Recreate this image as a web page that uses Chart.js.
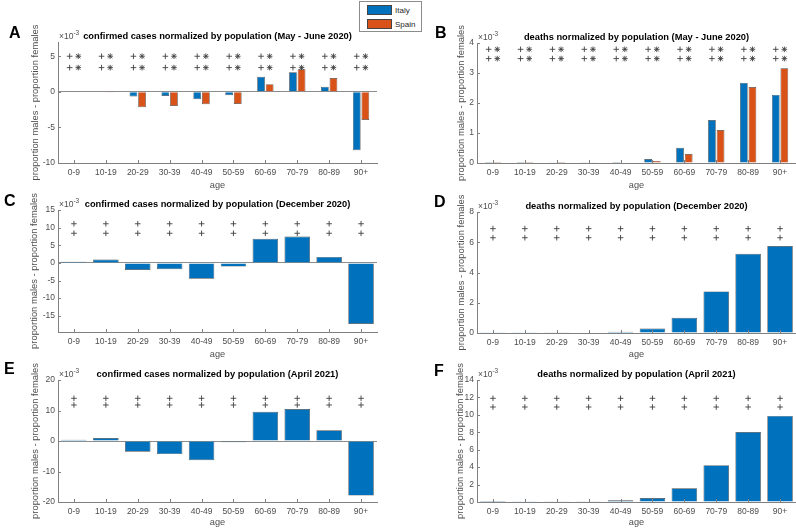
<!DOCTYPE html>
<html>
<head>
<meta charset="utf-8">
<script src="https://cdn.jsdelivr.net/npm/chart.js@4.4.0/dist/chart.umd.min.js"></script>
<style>
  body { margin: 0; background: #fff; }
  #wrap { position: relative; width: 796px; height: 529px; overflow: hidden; }
  #wrap canvas { position: absolute; }
  #legend { position: absolute; left: 359px; top: 1px; width: 63px; height: 31px; border: 1px solid #8c8c8c;
            background: #fff; box-sizing: border-box; font: 8px 'Liberation Sans', Arial, sans-serif; color: #262626; }
  #legend div { position: absolute; left: 7px; height: 11px; line-height: 11px; white-space: nowrap; }
  #legend span { display: inline-block; width: 25px; height: 10px; margin-right: 3px; vertical-align: top;
                 border: 1px solid #444; box-sizing: border-box; }
</style>
</head>
<body>
<div id="wrap">
  <canvas id="panelA"></canvas>
  <canvas id="panelB"></canvas>
  <canvas id="panelC"></canvas>
  <canvas id="panelD"></canvas>
  <canvas id="panelE"></canvas>
  <canvas id="panelF"></canvas>
  <div id="legend"></div>
</div>
<script>
// age groups on the x axis
const ageGroups = ['0-9', '10-19', '20-29', '30-39', '40-49', '50-59', '60-69', '70-79', '80-89', '90+'];
const seriesNames = ['Italy', 'Spain'];
const seriesColors = ['#0072BD', '#D95319'];

// values in units of 10^-3 (proportion males - proportion females)
const casesMayJun2020Italy = [0.05, -0.05, -0.66, -0.57, -1.04, -0.47, 2.12, 2.74, 0.71, -8.2];
const casesMayJun2020Spain = [0.05, -0.1, -2.17, -2.0, -1.75, -1.7, 1.08, 3.16, 1.93, -3.96];
const deathsMayJun2020Italy = [0.002, 0.003, 0.005, 0.01, 0.03, 0.13, 0.51, 1.43, 2.67, 2.27];
const deathsMayJun2020Spain = [0.001, 0.002, 0.004, 0.008, 0.015, 0.07, 0.3, 1.1, 2.53, 3.16];
const casesDec2020 = [0.3, 0.95, -2.0, -1.8, -4.5, -1.05, 6.86, 7.5, 1.7, -17.3];
const deathsDec2020 = [0.01, 0.01, 0.02, 0.03, 0.09, 0.29, 1.01, 2.75, 5.24, 5.75];
const casesApr2021 = [0.44, 1.0, -3.5, -4.3, -6.3, -0.4, 9.56, 10.5, 3.5, -17.9];
const deathsApr2021 = [0.01, 0.02, 0.03, 0.04, 0.19, 0.46, 1.58, 4.23, 8.04, 9.88];

// y tick labels
const yTicksA = [-10, -5, 0, 5];
const yTicksB = [0, 1, 2, 3, 4];
const yTicksC = [-15, -10, -5, 0, 5, 10, 15];
const yTicksD = [0, 2, 4, 6, 8];
const yTicksE = [-20, -10, 0, 10, 20];
const yTicksF = [0, 2, 4, 6, 8, 10, 12, 14];

// heights of the significance marker rows
const markRowsA = [5.0, 3.4];
const markRowsB = [3.79, 3.48];
const markRowsC = [11.1, 8.4];
const markRowsD = [6.9, 6.3];
const markRowsE = [14.0, 11.8];
const markRowsF = [11.9, 10.9];

const FONT = "'Liberation Sans', Arial, Helvetica, sans-serif";
const tickColor = '#4d4d4d';
const axisColor = '#808080';

const panels = [
  { id: 'panelA', letter: 'A', title: 'confirmed cases normalized by population (May - June 2020)',
    series: [casesMayJun2020Italy, casesMayJun2020Spain], yRange: [-10, 7], yTicks: yTicksA, marks: markRowsA,
    canvas: [0, 0, 400, 192], area: [58, 42, 377, 163], letterAt: [9, 34], labelX: 35 },
  { id: 'panelB', letter: 'B', title: 'deaths normalized by population (May - June 2020)',
    series: [deathsMayJun2020Italy, deathsMayJun2020Spain], yRange: [0, 4], yTicks: yTicksB, marks: markRowsB,
    canvas: [400, 0, 396, 192], area: [477, 43, 796, 163], letterAt: [435, 34], labelX: 461 },
  { id: 'panelC', letter: 'C', title: 'confirmed cases normalized by population (December 2020)',
    series: [casesDec2020], yRange: [-19.6, 15], yTicks: yTicksC, marks: markRowsC,
    canvas: [0, 192, 400, 169], area: [58, 210, 377, 332], letterAt: [4, 202], labelX: 34 },
  { id: 'panelD', letter: 'D', title: 'deaths normalized by population (December 2020)',
    series: [deathsDec2020], yRange: [0, 8], yTicks: yTicksD, marks: markRowsD,
    canvas: [400, 192, 396, 169], area: [477, 212, 796, 333], letterAt: [434, 203], labelX: 461 },
  { id: 'panelE', letter: 'E', title: 'confirmed cases normalized by population (April 2021)',
    series: [casesApr2021], yRange: [-20, 20], yTicks: yTicksE, marks: markRowsE,
    canvas: [0, 361, 400, 168], area: [58, 380, 377, 502], letterAt: [4, 370], labelX: 35 },
  { id: 'panelF', letter: 'F', title: 'deaths normalized by population (April 2021)',
    series: [deathsApr2021], yRange: [0, 14], yTicks: yTicksF, marks: markRowsF,
    canvas: [400, 361, 396, 168], area: [477, 380, 796, 502], letterAt: [434, 372], labelX: 460 }
];

// legend
const legendEl = document.getElementById('legend');
seriesNames.forEach((name, k) => {
  const row = document.createElement('div');
  row.style.top = (3 + k * 14) + 'px';
  row.innerHTML = '<span style="background:' + seriesColors[k] + '"></span>' + name;
  legendEl.appendChild(row);
});

function drawMark(ctx, x, y, kind) {
  const r = 2.8;
  ctx.beginPath();
  ctx.moveTo(x - r, y); ctx.lineTo(x + r, y);
  ctx.moveTo(x, y - r); ctx.lineTo(x, y + r);
  if (kind === 'star') {
    const d = r * 0.75;
    ctx.moveTo(x - d, y - d); ctx.lineTo(x + d, y + d);
    ctx.moveTo(x - d, y + d); ctx.lineTo(x + d, y - d);
  }
  ctx.stroke();
}

// titles, panel letters, x10^-3, inward ticks and markers
function makeDeco(p) {
  return {
    id: 'deco',
    afterDraw(chart) {
      const {ctx, chartArea: a, scales: {x, y}} = chart;
      const [cl, ct] = p.canvas;
      ctx.save();
      ctx.strokeStyle = axisColor;
      ctx.lineWidth = 1;
      ctx.beginPath();
      y.ticks.forEach(t => {
        const py = Math.round(y.getPixelForValue(t.value)) + 0.5;
        ctx.moveTo(a.left, py); ctx.lineTo(a.left + 3, py);
      });
      x.ticks.forEach((t, i) => {
        const px = Math.round(x.getPixelForTick(i)) + 0.5;
        ctx.moveTo(px, a.bottom); ctx.lineTo(px, a.bottom - 3);
      });
      ctx.stroke();

      ctx.strokeStyle = '#404040';
      ctx.lineWidth = 0.9;
      p.marks.forEach(v => {
        const py = y.getPixelForValue(v);
        chart.data.datasets.forEach((ds, k) => {
          chart.getDatasetMeta(k).data.forEach(bar => {
            drawMark(ctx, bar.x, py, k === 0 ? 'plus' : 'star');
          });
        });
      });

      ctx.fillStyle = '#000';
      ctx.textBaseline = 'middle';
      ctx.textAlign = 'center';
      ctx.font = 'bold 9.3px ' + FONT;
      ctx.fillText(p.title, (a.left + a.right) / 2, a.top - 6);

      ctx.textAlign = 'left';
      ctx.font = 'bold 16px ' + FONT;
      ctx.fillText(p.letter, p.letterAt[0] - cl, p.letterAt[1] - ct);

      ctx.fillStyle = tickColor;
      ctx.font = '8.5px ' + FONT;
      ctx.fillText('\u00d710', a.left + 1, a.top - 5);
      const w = ctx.measureText('\u00d710').width;
      ctx.font = '6.5px ' + FONT;
      ctx.fillText('-3', a.left + 1 + w, a.top - 9);
      ctx.restore();
    }
  };
}

panels.forEach(p => {
  const [cl, ct, cw, ch] = p.canvas;
  const [ax0, ay0, ax1, ay1] = p.area;
  const el = document.getElementById(p.id);
  el.width = cw;
  el.height = ch;
  el.style.left = cl + 'px';
  el.style.top = ct + 'px';
  const grouped = p.series.length > 1;

  new Chart(el, {
    type: 'bar',
    data: {
      labels: ageGroups,
      datasets: p.series.map((d, k) => ({
        label: seriesNames[k],
        data: d,
        backgroundColor: seriesColors[k],
        borderColor: '#4a4a4a',
        borderWidth: 0.7,
        barPercentage: grouped ? 0.9 : 0.8,
        categoryPercentage: grouped ? 0.54 : 1
      }))
    },
    options: {
      responsive: false,
      animation: false,
      devicePixelRatio: 1,
      layout: { padding: { left: 0, top: ay0 - ct, right: cl + cw - ax1, bottom: 0 } },
      plugins: { legend: { display: false }, tooltip: { enabled: false } },
      scales: {
        x: {
          grid: { display: false, drawTicks: false },
          border: { color: axisColor },
          ticks: { color: tickColor, font: { family: FONT, size: 8.5 }, padding: 4.5, maxRotation: 0, autoSkip: false },
          title: { display: true, text: 'age', color: tickColor, font: { family: FONT, size: 9.2 }, padding: { top: 0, bottom: 1.5 } },
          afterFit: s => { s.height = ct + ch - ay1; }
        },
        y: {
          min: p.yRange[0],
          max: p.yRange[1],
          afterBuildTicks: s => { s.ticks = p.yTicks.map(v => ({ value: v })); },
          grid: { drawTicks: false, color: c => (c.tick && c.tick.value === 0) ? '#8c8c8c' : 'rgba(0,0,0,0)' },
          border: { color: axisColor },
          ticks: { color: tickColor, font: { family: FONT, size: 8.5 }, padding: 3 },
          title: { display: true, text: 'proportion males - proportion females', color: tickColor,
                   font: { family: FONT, size: 9.4 }, padding: { top: p.labelX - cl - 5.64, bottom: 0 } },
          afterFit: s => { s.width = ax0 - cl; }
        }
      }
    },
    plugins: [makeDeco(p)]
  });
});
</script>
</body>
</html>
